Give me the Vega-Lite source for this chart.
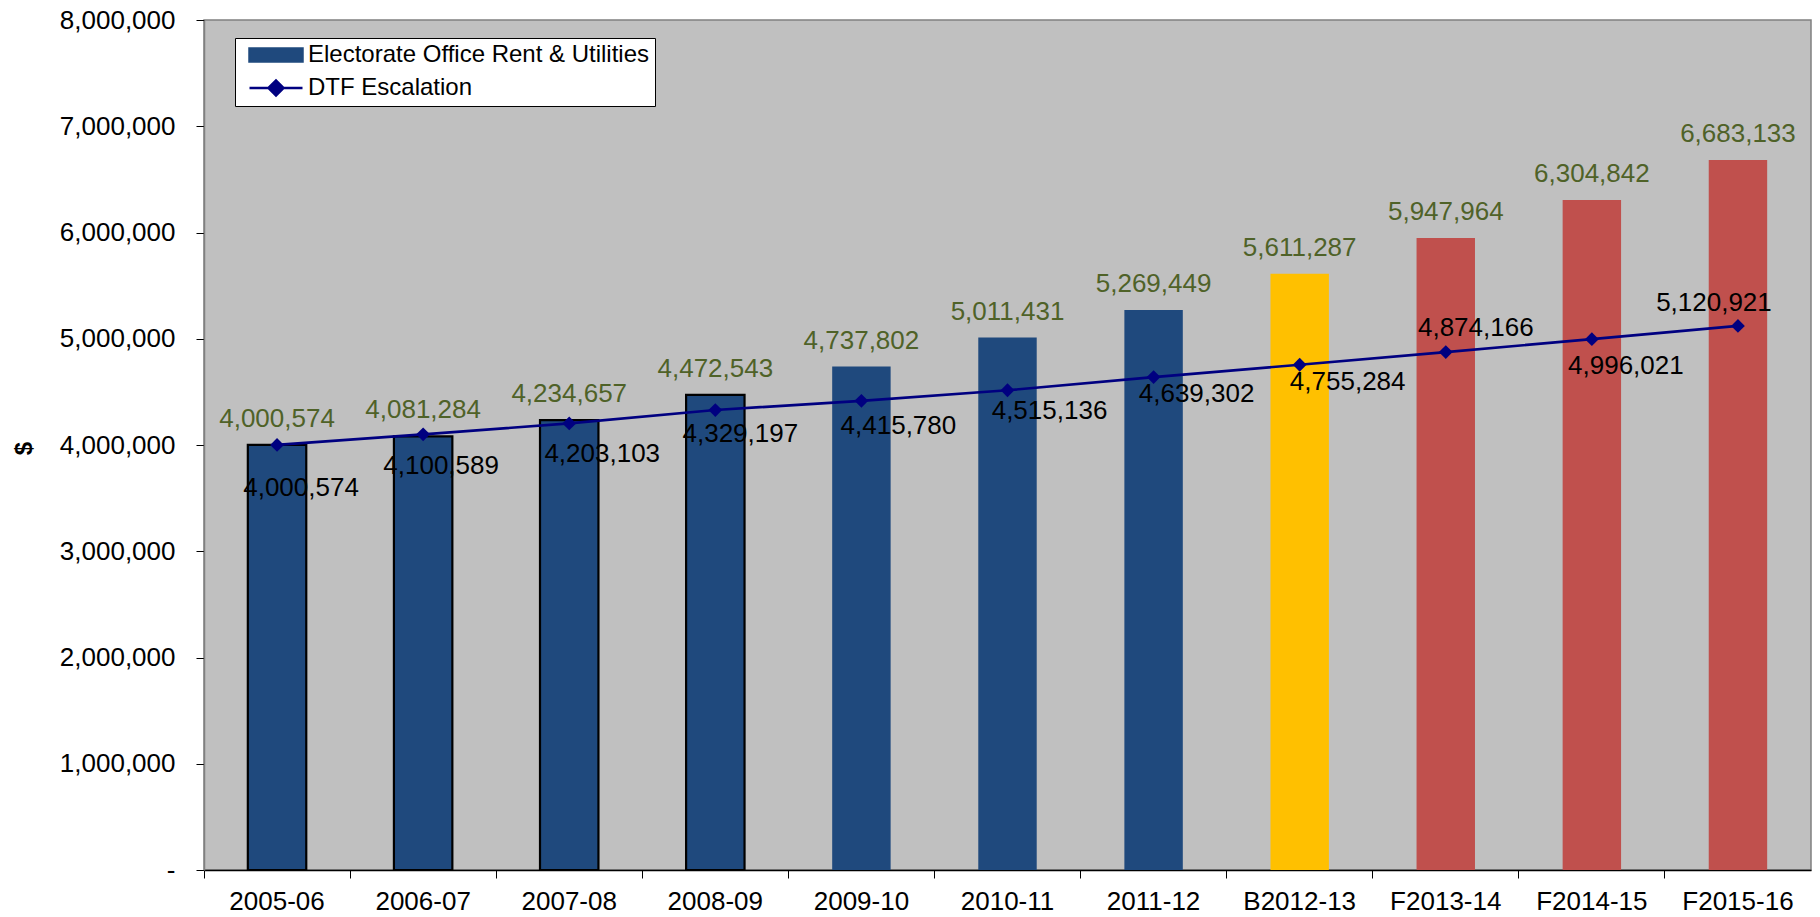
{
  "$schema": "https://vega.github.io/schema/vega-lite/v6.json",
  "width": 1607,
  "height": 850,
  "autosize": "none",
  "padding": {"left": 204, "top": 20, "right": 9, "bottom": 47},
  "background": "white",
  "config": {
    "font": "Liberation Sans",
    "view": {"fill": "#C0C0C0", "stroke": "#808080", "strokeWidth": 1.5},
    "axis": {"labelFont": "Liberation Sans", "labelColor": "black", "tickColor": "black", "grid": false},
    "text": {"fontSize": 26, "font": "Liberation Sans", "baseline": "middle"}
  },
  "data": {
    "values": [
      {"year": "2005-06", "kind": "Actual", "rent": 4000574, "dtf": 4000574},
      {"year": "2006-07", "kind": "Actual", "rent": 4081284, "dtf": 4100589},
      {"year": "2007-08", "kind": "Actual", "rent": 4234657, "dtf": 4203103},
      {"year": "2008-09", "kind": "Actual", "rent": 4472543, "dtf": 4329197},
      {"year": "2009-10", "kind": "Actual", "rent": 4737802, "dtf": 4415780},
      {"year": "2010-11", "kind": "Actual", "rent": 5011431, "dtf": 4515136},
      {"year": "2011-12", "kind": "Actual", "rent": 5269449, "dtf": 4639302},
      {"year": "B2012-13", "kind": "Budget", "rent": 5611287, "dtf": 4755284},
      {"year": "F2013-14", "kind": "Forecast", "rent": 5947964, "dtf": 4874166},
      {"year": "F2014-15", "kind": "Forecast", "rent": 6304842, "dtf": 4996021},
      {"year": "F2015-16", "kind": "Forecast", "rent": 6683133, "dtf": 5120921}
    ]
  },
  "encoding": {
    "x": {
      "field": "year", "type": "nominal", "sort": null,
      "scale": {"paddingInner": 0, "paddingOuter": 0},
      "axis": {"title": null, "labelAngle": 0, "labelFontSize": 26, "labelPadding": 10, "tickSize": 8, "bandPosition": 0, "domainColor": "black", "domainWidth": 1.5}
    }
  },
  "layer": [
    {
      "mark": {"type": "bar", "width": {"band": 0.4}, "strokeWidth": 2.2},
      "encoding": {
        "y": {
          "field": "rent", "type": "quantitative",
          "scale": {"domain": [0, 8000000], "nice": false},
          "axis": {
            "values": [0, 1000000, 2000000, 3000000, 4000000, 5000000, 6000000, 7000000, 8000000],
            "labelExpr": "datum.value === 0 ? '-\u00a0\u00a0\u00a0' : format(datum.value, ',')",
            "labelFontSize": 26, "labelPadding": 21, "tickSize": 8,
            "domainColor": "#808080", "domainWidth": 1.5,
            "title": "$", "titleFont": "Liberation Sans", "titleFontSize": 24, "titleFontWeight": "bold",
            "titleX": -180, "titleY": 428, "titleAlign": "center", "titleBaseline": "middle", "titleAngle": 270
          }
        },
        "fill": {
          "condition": [
            {"test": "datum.kind === 'Budget'", "value": "#FFC000"},
            {"test": "datum.kind === 'Forecast'", "value": "#C0504D"}
          ],
          "value": "#1F497D"
        },
        "stroke": {
          "condition": {"test": "indexof(['2005-06','2006-07','2007-08','2008-09'], datum.year) >= 0", "value": "black"},
          "value": "transparent"
        }
      }
    },
    {
      "mark": {"type": "text", "baseline": "alphabetic", "dy": -18, "color": "#4F6228"},
      "encoding": {
        "y": {"field": "rent", "type": "quantitative"},
        "text": {"field": "rent", "type": "quantitative", "format": ","}
      }
    },
    {
      "mark": {"type": "line", "strokeWidth": 2.7},
      "encoding": {
        "y": {"field": "dtf", "type": "quantitative"},
        "color": {
          "datum": "DTF Escalation",
          "scale": {"domain": ["Electorate Office Rent & Utilities", "DTF Escalation"], "range": ["#1F497D", "#000080"]},
          "legend": {
            "title": null,
            "orient": "none", "legendX": 31, "legendY": 18,
            "direction": "vertical",
            "fillColor": "white", "strokeColor": "black", "padding": 5,
            "labelFont": "Liberation Sans", "labelFontSize": 24, "labelColor": "black", "labelLimit": 0,
            "labelExpr": "datum.label === 'DTF Escalation' ? datum.label : datum.label + '\u00a0\u00a0'",
            "labelOffset": 44, "rowPadding": 8,
            "symbolSize": 400, "symbolStrokeWidth": 2.5,
            "encode": {
              "symbols": {
                "update": {
                  "shape": {"signal": "datum.label === 'DTF Escalation' ? 'M-0.25,0H5.05M1.65,0L2.4,-0.75L3.15,0L2.4,0.75Z' : 'M-0.25,-0.65H5.05V0.65H-0.25Z'"},
                  "fill": {"signal": "datum.label === 'DTF Escalation' ? '#000080' : '#1F497D'"},
                  "stroke": {"signal": "datum.label === 'DTF Escalation' ? '#000080' : '#000000'"},
                  "strokeWidth": {"value": 2.5},
                  "opacity": {"value": 1},
                  "strokeOpacity": {"value": 1}
                }
              }
            }
          }
        }
      }
    },
    {
      "mark": {"type": "point", "shape": "diamond", "filled": true, "size": 190, "color": "#000080", "opacity": 1},
      "encoding": {"y": {"field": "dtf", "type": "quantitative"}}
    },
    {
      "transform": [{"filter": "datum.year === '2005-06'"}],
      "mark": {"type": "text", "dx": 24, "dy": 43, "color": "black"},
      "encoding": {"y": {"field": "dtf", "type": "quantitative"}, "text": {"field": "dtf", "type": "quantitative", "format": ","}}
    },
    {
      "transform": [{"filter": "datum.year === '2006-07'"}],
      "mark": {"type": "text", "dx": 18, "dy": 32, "color": "black"},
      "encoding": {"y": {"field": "dtf", "type": "quantitative"}, "text": {"field": "dtf", "type": "quantitative", "format": ","}}
    },
    {
      "transform": [{"filter": "datum.year === '2007-08'"}],
      "mark": {"type": "text", "dx": 33, "dy": 31, "color": "black"},
      "encoding": {"y": {"field": "dtf", "type": "quantitative"}, "text": {"field": "dtf", "type": "quantitative", "format": ","}}
    },
    {
      "transform": [{"filter": "datum.year === '2008-09'"}],
      "mark": {"type": "text", "dx": 25, "dy": 24, "color": "black"},
      "encoding": {"y": {"field": "dtf", "type": "quantitative"}, "text": {"field": "dtf", "type": "quantitative", "format": ","}}
    },
    {
      "transform": [{"filter": "datum.year === '2009-10'"}],
      "mark": {"type": "text", "dx": 37, "dy": 25, "color": "black"},
      "encoding": {"y": {"field": "dtf", "type": "quantitative"}, "text": {"field": "dtf", "type": "quantitative", "format": ","}}
    },
    {
      "transform": [{"filter": "datum.year === '2010-11'"}],
      "mark": {"type": "text", "dx": 42, "dy": 21, "color": "black"},
      "encoding": {"y": {"field": "dtf", "type": "quantitative"}, "text": {"field": "dtf", "type": "quantitative", "format": ","}}
    },
    {
      "transform": [{"filter": "datum.year === '2011-12'"}],
      "mark": {"type": "text", "dx": 43, "dy": 17, "color": "black"},
      "encoding": {"y": {"field": "dtf", "type": "quantitative"}, "text": {"field": "dtf", "type": "quantitative", "format": ","}}
    },
    {
      "transform": [{"filter": "datum.year === 'B2012-13'"}],
      "mark": {"type": "text", "dx": 48, "dy": 17, "color": "black"},
      "encoding": {"y": {"field": "dtf", "type": "quantitative"}, "text": {"field": "dtf", "type": "quantitative", "format": ","}}
    },
    {
      "transform": [{"filter": "datum.year === 'F2013-14'"}],
      "mark": {"type": "text", "dx": 30, "dy": -24, "color": "black"},
      "encoding": {"y": {"field": "dtf", "type": "quantitative"}, "text": {"field": "dtf", "type": "quantitative", "format": ","}}
    },
    {
      "transform": [{"filter": "datum.year === 'F2014-15'"}],
      "mark": {"type": "text", "dx": 34, "dy": 27, "color": "black"},
      "encoding": {"y": {"field": "dtf", "type": "quantitative"}, "text": {"field": "dtf", "type": "quantitative", "format": ","}}
    },
    {
      "transform": [{"filter": "datum.year === 'F2015-16'"}],
      "mark": {"type": "text", "dx": -24, "dy": -23, "color": "black"},
      "encoding": {"y": {"field": "dtf", "type": "quantitative"}, "text": {"field": "dtf", "type": "quantitative", "format": ","}}
    }
  ]
}
